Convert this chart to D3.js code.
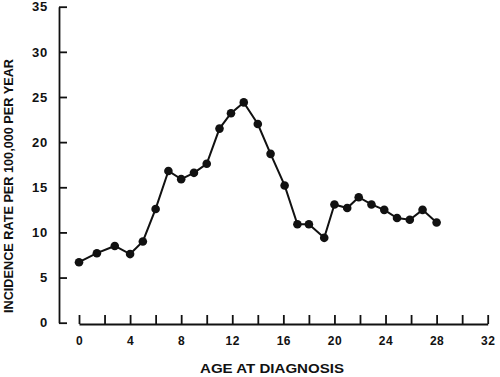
<!DOCTYPE html>
<html>
<head>
<meta charset="utf-8">
<script src="https://cdn.jsdelivr.net/npm/d3@7"></script>
<style>
  html, body { margin: 0; padding: 0; background: #fff; }
  svg { display: block; }
  text { font-family: "Liberation Sans", Arial, sans-serif; fill: #111; }
</style>
</head>
<body>
<script>
// Data
const ages = [0, 1.4, 2.8, 4, 5, 6, 7, 8, 9, 10, 11, 11.9, 12.9, 14, 15, 16.1, 17.1, 18, 19.2, 20, 21, 21.9, 22.9, 23.9, 24.9, 25.9, 26.9, 28];
const rates = [6.7, 7.7, 8.5, 7.6, 9.0, 12.6, 16.8, 15.9, 16.6, 17.6, 21.5, 23.2, 24.4, 22.0, 18.7, 15.2, 10.9, 10.9, 9.4, 13.1, 12.7, 13.9, 13.1, 12.5, 11.6, 11.4, 12.5, 11.1];
const xTicks = [0, 2, 4, 6, 8, 10, 12, 14, 16, 18, 20, 22, 24, 26, 28, 30, 32];
const xLabelTicks = [0, 4, 8, 12, 16, 20, 24, 28, 32];
const yTicks = [0, 5, 10, 15, 20, 25, 30, 35];
const xTitle = "AGE AT DIAGNOSIS";
const yTitle = "INCIDENCE RATE PER 100,000 PER YEAR";

const W = 500, H = 377;
const svg = d3.select("body").append("svg").attr("width", W).attr("height", H);

const x = d3.scaleLinear().domain([0, 32]).range([79, 487.7]);
const y = d3.scaleLinear().domain([0, 35]).range([322.7, 6.7]);

// Y axis (ticks point right, labels left)
const yAxis = d3.axisLeft(y).tickValues(yTicks).tickSizeInner(-8).tickSizeOuter(0).tickPadding(11);
const gy = svg.append("g").attr("transform", "translate(59,0)").call(yAxis);
gy.select(".domain").attr("stroke", "#111").attr("stroke-width", 1.8);
gy.selectAll(".tick line").attr("stroke", "#111").attr("stroke-width", 1.8);
gy.selectAll(".tick text").attr("font-size", 13).attr("font-weight", "bold")
  .attr("letter-spacing", 0.8).attr("fill", "#111").style("font-family", "'Liberation Sans', Arial, sans-serif");

// X axis (ticks point up, labels below every 4)
const xAxis = d3.axisBottom(x).tickValues(xTicks).tickSizeInner(-9).tickSizeOuter(0).tickPadding(12)
  .tickFormat(d => xLabelTicks.includes(d) ? String(d) : "");
const gx = svg.append("g").attr("transform", "translate(0,324)").call(xAxis);
gx.select(".domain").attr("stroke", "#111").attr("stroke-width", 1.8);
gx.selectAll(".tick line").attr("stroke", "#111").attr("stroke-width", 1.8);
gx.selectAll(".tick text").attr("font-size", 12).attr("font-weight", "bold")
  .attr("letter-spacing", 0.5).attr("fill", "#111").style("font-family", "'Liberation Sans', Arial, sans-serif");

// Line
const pts = ages.map((a, i) => [a, rates[i]]);
svg.append("path").datum(pts)
  .attr("fill", "none").attr("stroke", "#111").attr("stroke-width", 2)
  .attr("d", d3.line().x(d => x(d[0])).y(d => y(d[1])));

// Dots
svg.selectAll("circle.pt").data(pts).enter().append("circle")
  .attr("class", "pt").attr("cx", d => x(d[0])).attr("cy", d => y(d[1]))
  .attr("r", 4.3).attr("fill", "#111");

// Titles
svg.append("text").attr("x", 272).attr("y", 373).attr("text-anchor", "middle")
  .attr("font-size", 12).attr("font-weight", "bold")
  .attr("textLength", 144).attr("lengthAdjust", "spacingAndGlyphs").text(xTitle);

svg.append("text").attr("transform", "translate(13,186) rotate(-90)").attr("text-anchor", "middle")
  .attr("font-size", 12).attr("font-weight", "bold")
  .attr("textLength", 254).attr("lengthAdjust", "spacingAndGlyphs").text(yTitle);
</script>
</body>
</html>
